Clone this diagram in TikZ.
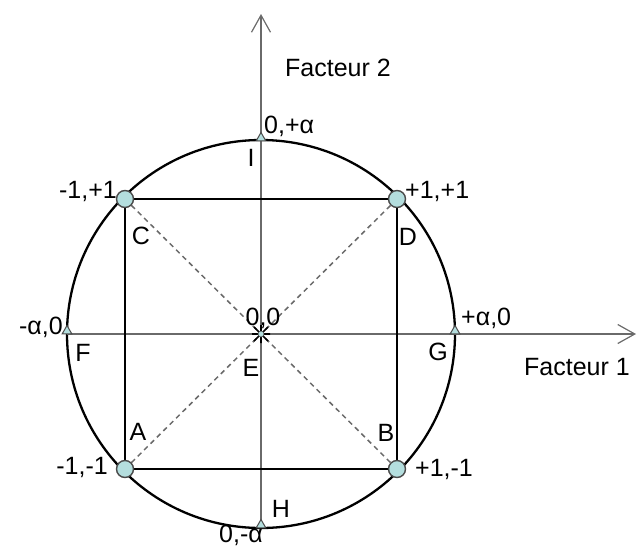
\documentclass[tikz,border=0pt]{standalone}
\usepackage{fontspec}
\setmainfont{Liberation Sans}
\usetikzlibrary{arrows.meta,shapes.geometric}
\definecolor{axisgray}{HTML}{6A6A6A}
\definecolor{ptfill}{HTML}{B4DEDE}
\definecolor{ptdraw}{HTML}{4A4A4A}
\begin{document}
\begin{tikzpicture}[x=1pt,y=-1pt,
  axis/.style={draw=axisgray,line width=1.2pt,-{Straight Barb[length=17pt,width=19pt,line width=1.2pt]}},
  frame/.style={draw=black,line width=2.3pt},
  diag/.style={draw=axisgray,line width=1.5pt,dash pattern=on 5pt off 4pt},
  corner/.style={circle,fill=ptfill,draw=ptdraw,line width=1.4pt,minimum size=17pt,inner sep=0pt},
  axpt/.style={regular polygon,regular polygon sides=3,fill=ptfill,draw=ptdraw,line width=1pt,minimum size=11pt,inner sep=0pt},
  lbl/.style={font=\fontsize{25}{28}\selectfont,inner sep=0pt,text=black}]
\useasboundingbox (0,0) rectangle (641,547);
\coordinate (O) at (261,334);
% circle
\draw[frame] (O) circle[radius=194];
% axes
\coordinate (xl) at (67,334);
\coordinate (xr) at (636,334);
\coordinate (yb) at (261,528);
\coordinate (yt) at (261,14);
\draw[axis] (xl) -- (xr);
\draw[axis] (yb) -- (yt);
% square corners
\coordinate (pA) at (125,469);
\coordinate (pB) at (397,469);
\coordinate (pC) at (125,199);
\coordinate (pD) at (397,199);
\draw[diag] (pA) -- (pD);
\draw[diag] (pC) -- (pB);
\draw[frame] (pA) -- (pB) -- (pD) -- (pC) -- cycle;
\node[corner] (cA) at (pA) {};
\node[corner] (cB) at (pB) {};
\node[corner] (cC) at (pC) {};
\node[corner] (cD) at (pD) {};
% axis points
\node[axpt] (tF) at (67,331) {};
\node[axpt] (tG) at (455,331) {};
\node[axpt] (tI) at (261,138) {};
\node[axpt] (tH) at (261,525) {};
% centre
\draw[black,line width=1.6pt] (254,327) -- (268,341) (254,341) -- (268,327) (252,334) -- (270,334) (261,325) -- (261,343);
\node[circle,fill=ptfill,draw=ptdraw,line width=0.6pt,minimum size=6pt,inner sep=0pt] (cE) at (O) {};
% labels
\node[lbl,anchor=west] (f2) at (285,68) {Facteur 2};
\node[lbl,anchor=west] (f1) at (524,367) {Facteur 1};
\node[lbl,anchor=west] (l0p) at (264,126) {0,+α};
\node[lbl] (lI) at (251,158) {I};
\node[lbl,anchor=east] (lmp) at (117,191) {-1,+1};
\node[lbl,anchor=west] (lpp) at (405,191) {+1,+1};
\node[lbl] (lC) at (141,236) {C};
\node[lbl] (lD) at (408,237) {D};
\node[lbl,anchor=east] (lma) at (63,327) {-α,0};
\node[lbl] (lF) at (83,353) {F};
\node[lbl] (l00) at (263,318) {0,0};
\node[lbl] (lE) at (251,368) {E};
\node[lbl,anchor=west] (lpa) at (461,318) {+α,0};
\node[lbl] (lG) at (438,352) {G};
\node[lbl] (lAl) at (138,432) {A};
\node[lbl] (lBl) at (386,433) {B};
\node[lbl,anchor=east] (lmm) at (108,467) {-1,-1};
\node[lbl,anchor=west] (lpm) at (415,469) {+1,-1};
\node[lbl] (lH) at (281,509) {H};
\node[lbl,anchor=east] (l0m) at (263,535) {0,-α};
\end{tikzpicture}
\end{document}
